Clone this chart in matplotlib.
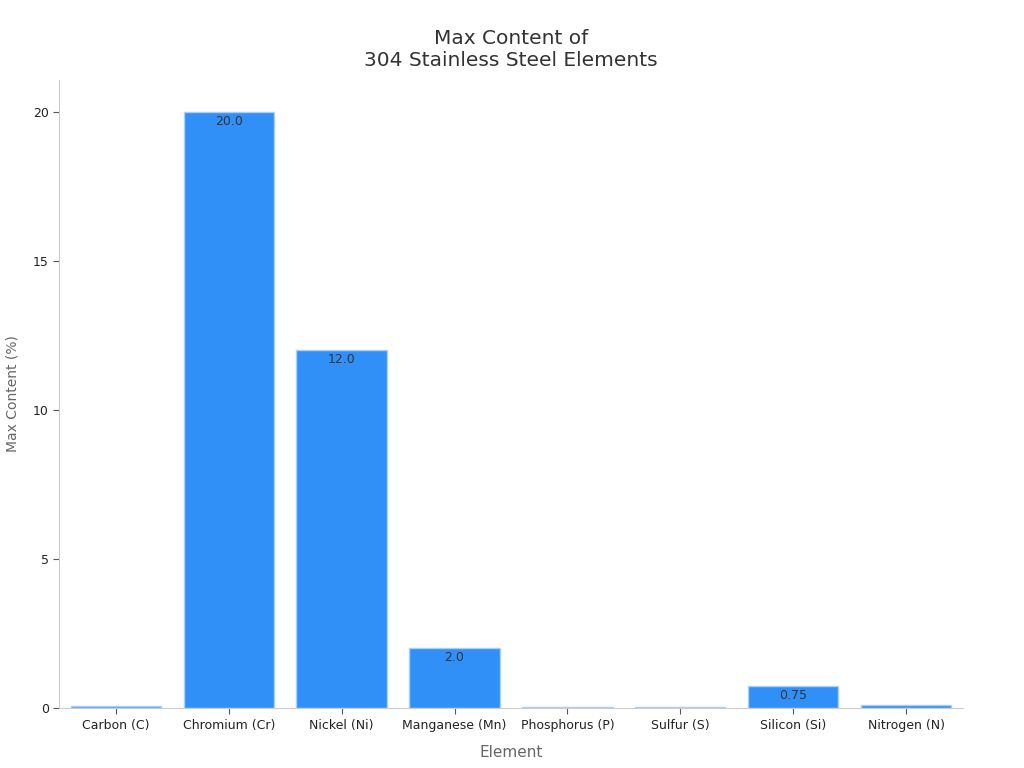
import matplotlib
matplotlib.use("Agg")
import matplotlib.pyplot as plt

elements = ["Carbon (C)", "Chromium (Cr)", "Nickel (Ni)", "Manganese (Mn)",
            "Phosphorus (P)", "Sulfur (S)", "Silicon (Si)", "Nitrogen (N)"]
max_content = [0.08, 20.0, 12.0, 2.0, 0.045, 0.03, 0.75, 0.10]
label_texts = ["0.08", "20.0", "12.0", "2.0", "0.045", "0.03", "0.75", "0.1"]

plt.rcParams['font.family'] = ['DejaVu Sans']
fig = plt.figure(figsize=(10.24, 7.68), dpi=100)
ax = fig.add_axes([0.058, 0.078, 0.882, 0.818])

x = list(range(len(elements)))
bars = ax.bar(x, max_content, width=0.8, color="#3090F8", edgecolor="#A8D0F8", linewidth=1)

for xi, v, t in zip(x, max_content, label_texts):
    if v >= 0.5:
        ax.annotate(t, (xi, v), xytext=(0, -2), textcoords="offset points",
                    ha="center", va="top", fontsize=9, color="#333333")

ax.set_xlim(-0.5, 7.5)
ax.set_ylim(0, 21.07)
ax.set_xticks(x)
ax.set_xticklabels(elements, fontsize=9, color="#222222")
ax.set_yticks([0, 5, 10, 15, 20])
ax.tick_params(axis='y', labelsize=9, colors="#222222")
ax.tick_params(axis='both', color="#555555", length=4)
for s in ["top", "right"]:
    ax.spines[s].set_visible(False)
for s in ["left", "bottom"]:
    ax.spines[s].set_color("#CCCCCC")

ax.set_xlabel("Element", fontsize=11, color="#666666", labelpad=10)
ax.set_ylabel("Max Content (%)", fontsize=10, color="#666666", labelpad=10)
ax.set_title("Max Content of\n304 Stainless Steel Elements", fontsize=14.5, color="#333333", pad=10)

fig.savefig("out.png", dpi=100)
